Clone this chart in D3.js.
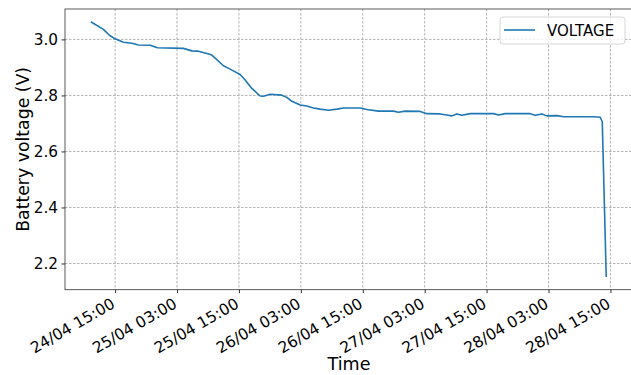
<!DOCTYPE html>
<html>
<head>
<meta charset="utf-8">
<script src="https://cdn.jsdelivr.net/npm/d3@7"></script>
<style>
  body { margin: 0; background: #fff; }
  svg { display: block; font-family: "DejaVu Sans", sans-serif; }
</style>
</head>
<body>
<svg id="chart"></svg>
<script>
// readings taken off the plot
const times = [
  "2020-04-24 10:17", "2020-04-24 12:44", "2020-04-24 13:54", "2020-04-24 15:00",
  "2020-04-24 16:37", "2020-04-24 18:14", "2020-04-24 19:31", "2020-04-24 21:47",
  "2020-04-24 23:12", "2020-04-25 04:14", "2020-04-25 05:52", "2020-04-25 07:09",
  "2020-04-25 08:47", "2020-04-25 09:45", "2020-04-25 12:00", "2020-04-25 13:17",
  "2020-04-25 15:14", "2020-04-25 16:12", "2020-04-25 17:30", "2020-04-25 19:07",
  "2020-04-25 19:45", "2020-04-25 21:03", "2020-04-25 23:19", "2020-04-26 00:17",
  "2020-04-26 01:16", "2020-04-26 02:52", "2020-04-26 04:10", "2020-04-26 05:26",
  "2020-04-26 06:44", "2020-04-26 08:21", "2020-04-26 09:59", "2020-04-26 11:16",
  "2020-04-26 14:30", "2020-04-26 15:47", "2020-04-26 18:02", "2020-04-26 20:57",
  "2020-04-26 21:55", "2020-04-26 23:13", "2020-04-27 02:08", "2020-04-27 03:26",
  "2020-04-27 06:00", "2020-04-27 07:18", "2020-04-27 08:16", "2020-04-27 09:14",
  "2020-04-27 10:13", "2020-04-27 11:49", "2020-04-27 16:20", "2020-04-27 17:19",
  "2020-04-27 18:37", "2020-04-27 23:27", "2020-04-28 00:25", "2020-04-28 01:43",
  "2020-04-28 02:41", "2020-04-28 04:38", "2020-04-28 05:55", "2020-04-28 11:43",
  "2020-04-28 13:01", "2020-04-28 13:25", "2020-04-28 14:11"
];
const voltage = [
  3.063, 3.036, 3.015, 3.002,
  2.990, 2.986, 2.980, 2.979,
  2.970, 2.968, 2.959, 2.958,
  2.950, 2.944, 2.906, 2.894,
  2.875, 2.855, 2.825, 2.798,
  2.797, 2.804, 2.801, 2.793,
  2.779, 2.766, 2.762, 2.755,
  2.751, 2.747, 2.751, 2.755,
  2.755, 2.750, 2.744, 2.744,
  2.740, 2.744, 2.743, 2.735,
  2.734, 2.730, 2.727, 2.734,
  2.729, 2.735, 2.735, 2.730,
  2.735, 2.735, 2.729, 2.734,
  2.727, 2.728, 2.724, 2.724,
  2.722, 2.706, 2.152
];
const xTicks = [
  "2020-04-24 15:00", "2020-04-25 03:00", "2020-04-25 15:00", "2020-04-26 03:00",
  "2020-04-26 15:00", "2020-04-27 03:00", "2020-04-27 15:00", "2020-04-28 03:00",
  "2020-04-28 15:00"
];
const yTicks = [2.2, 2.4, 2.6, 2.8, 3.0];
const seriesName = "VOLTAGE";

const width = 631, height = 375;
const margin = {top: 9, left: 65};
const plotW = 567, plotH = 280.7;

const parse = d3.timeParse("%Y-%m-%d %H:%M");
const data = times.map((t, i) => ({t: parse(t), v: voltage[i]}));

const svg = d3.select('#chart')
  .attr('width', width)
  .attr('height', height);

// matplotlib style 5% padding on both axes
const tExt = d3.extent(data, d => d.t);
const tPad = (tExt[1] - tExt[0]) * 0.05;
const xScale = d3.scaleTime()
  .domain([new Date(+tExt[0] - tPad), new Date(+tExt[1] + tPad)])
  .range([margin.left, margin.left + plotW]);

const vExt = d3.extent(data, d => d.v);
const vPad = (vExt[1] - vExt[0]) * 0.05;
const yScale = d3.scaleLinear()
  .domain([vExt[0] - vPad, vExt[1] + vPad])
  .range([margin.top + plotH, margin.top]);

const bottom = margin.top + plotH;
const tickVals = xTicks.map(parse);

// grid
const grid = svg.append('g').attr('stroke', '#a0a0a0').attr('stroke-width', 0.8)
  .attr('stroke-dasharray', '2.5,1.5');
grid.selectAll('line.gx')
  .data(tickVals)
  .enter()
  .append('line')
  .attr('x1', d => xScale(d)).attr('x2', d => xScale(d))
  .attr('y1', margin.top).attr('y2', bottom);
grid.selectAll('line.gy')
  .data(yTicks)
  .enter()
  .append('line')
  .attr('x1', margin.left).attr('x2', margin.left + plotW)
  .attr('y1', d => yScale(d)).attr('y2', d => yScale(d));

// line
const line = d3.line()
  .x(d => xScale(d.t))
  .y(d => yScale(d.v));

svg.append('path')
  .datum(data)
  .attr('fill', 'none')
  .attr('stroke', '#1f77b4')
  .attr('stroke-width', 1.6)
  .attr('stroke-linejoin', 'round')
  .attr('d', line);

// axes
const xAxis = d3.axisBottom(xScale)
  .tickValues(tickVals)
  .tickSize(3.5)
  .tickFormat(d3.timeFormat('%d/%m %H:%M'));

const gx = svg.append('g')
  .attr('transform', 'translate(0,' + bottom + ')')
  .call(xAxis);
gx.select('.domain').remove();
gx.selectAll('line').attr('stroke', '#333');
gx.selectAll('text')
  .style('font-size', '15.5px')
  .style('font-family', '"DejaVu Sans", sans-serif')
  .attr('fill', '#000')
  .attr('text-anchor', 'end')
  .attr('dy', null)
  .attr('y', null)
  .attr('transform', 'translate(0.5,17) rotate(-30)');

const yAxis = d3.axisLeft(yScale)
  .tickValues(yTicks)
  .tickSize(3.5)
  .tickPadding(3.5)
  .tickFormat(d3.format('.1f'));

const gy = svg.append('g')
  .attr('transform', 'translate(' + margin.left + ',0)')
  .call(yAxis);
gy.select('.domain').remove();
gy.selectAll('line').attr('stroke', '#333');
gy.selectAll('text')
  .style('font-size', '15.3px')
  .style('font-family', '"DejaVu Sans", sans-serif')
  .attr('fill', '#000');

// frame
svg.append('rect')
  .attr('x', margin.left).attr('y', margin.top)
  .attr('width', plotW).attr('height', plotH)
  .attr('fill', 'none')
  .attr('stroke', '#333')
  .attr('stroke-width', 0.8);

// labels
svg.append('text')
  .attr('x', 349)
  .attr('y', 370)
  .attr('text-anchor', 'middle')
  .style('font-size', '17.5px')
  .text('Time');

svg.append('text')
  .attr('transform', 'translate(29,' + (margin.top + plotH / 2) + ') rotate(-90)')
  .attr('text-anchor', 'middle')
  .style('font-size', '17.3px')
  .text('Battery voltage (V)');

// legend
const lg = svg.append('g');
lg.append('rect')
  .attr('x', 500).attr('y', 17)
  .attr('width', 125).attr('height', 27)
  .attr('rx', 3)
  .attr('fill', '#fff').attr('fill-opacity', 0.8)
  .attr('stroke', '#ccc').attr('stroke-width', 0.8);
lg.append('line')
  .attr('x1', 504).attr('x2', 535)
  .attr('y1', 30).attr('y2', 30)
  .attr('stroke', '#1f77b4').attr('stroke-width', 1.6);
lg.append('text')
  .attr('x', 547).attr('y', 35.5)
  .style('font-size', '15px')
  .text(seriesName);
</script>
</body>
</html>
